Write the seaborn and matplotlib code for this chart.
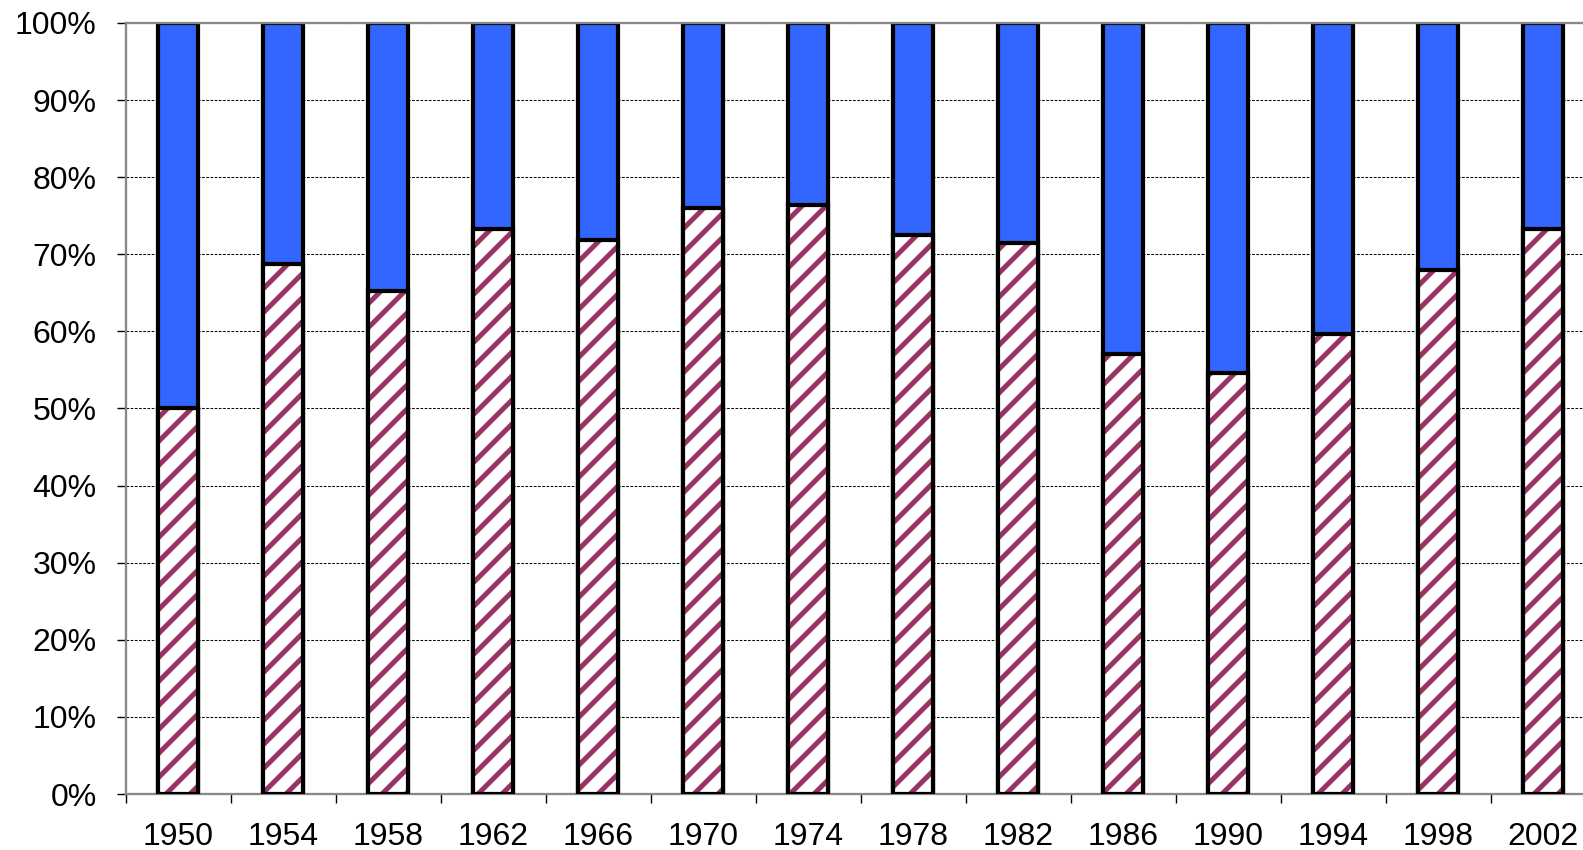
import matplotlib
matplotlib.use("Agg")
import matplotlib.pyplot as plt
import seaborn as sns
import pandas as pd
from matplotlib.ticker import FixedLocator, PercentFormatter

# Share of the lower (hatched) segment in each year, in percent
years = ["1950", "1954", "1958", "1962", "1966", "1970", "1974",
         "1978", "1982", "1986", "1990", "1994", "1998", "2002"]
lower_share = [50.0, 68.7, 65.2, 73.3, 71.9, 76.0, 76.4,
               72.5, 71.5, 57.1, 54.6, 59.6, 67.9, 73.3]
total = [100.0] * len(years)

df = pd.DataFrame({"year": years, "lower": lower_share, "total": total})

sns.set_theme(style="white")
plt.rcParams["font.family"] = ["Liberation Sans", "DejaVu Sans"]
plt.rcParams["hatch.linewidth"] = 5.0

DPI = 72
fig = plt.figure(figsize=(1583 / DPI, 850 / DPI), dpi=DPI)
ax = fig.add_axes([125.7 / 1583, 56 / 850, 1470 / 1583, 771 / 850])

BLUE = "#3366FF"
MAROON = "#993366"
W = 0.38
EDGE = 4.2
FS = 32

# Full-height bars: upper (blue) segment and overall outline
sns.barplot(data=df, x="year", y="total", color=BLUE, saturation=1,
            width=W, edgecolor="black", linewidth=EDGE, ax=ax, zorder=2)
# Hatched lower segment
sns.barplot(data=df, x="year", y="lower", color="white", saturation=1,
            width=W, edgecolor=MAROON, hatch="/", linewidth=0, ax=ax, zorder=3)
# Outline of the lower segment
sns.barplot(data=df, x="year", y="lower", color="white", saturation=1,
            width=W, facecolor="none", edgecolor="black", linewidth=EDGE,
            ax=ax, zorder=4)

ax.set_xlim(-0.5, len(years) - 0.5)
ax.set_ylim(0, 100)
ax.set_xlabel("")
ax.set_ylabel("")

ax.yaxis.set_major_locator(FixedLocator(list(range(0, 101, 10))))
ax.yaxis.set_major_formatter(PercentFormatter(decimals=0))
ax.grid(axis="y", color="black", linestyle=(0, (2.5, 1.5)), linewidth=1.05)
ax.set_axisbelow(True)

# Category ticks sit between bars, labels centred under bars
ax.xaxis.set_minor_locator(FixedLocator([i - 0.5 for i in range(len(years) + 1)]))
ax.tick_params(axis="x", which="major", length=0, pad=28, labelsize=FS,
               labelcolor="black")
ax.tick_params(axis="x", which="minor", length=9, width=1.4, color="black",
               direction="out", bottom=True)
ax.tick_params(axis="y", which="major", length=9, width=1.4, color="black",
               direction="out", left=True, pad=20, labelsize=FS,
               labelcolor="black")

for side in ("left", "bottom", "top"):
    ax.spines[side].set_visible(True)
    ax.spines[side].set_color("#888888")
    ax.spines[side].set_linewidth(2.3)
ax.spines["right"].set_visible(False)

fig.savefig("out.png", dpi=DPI, facecolor="white")
